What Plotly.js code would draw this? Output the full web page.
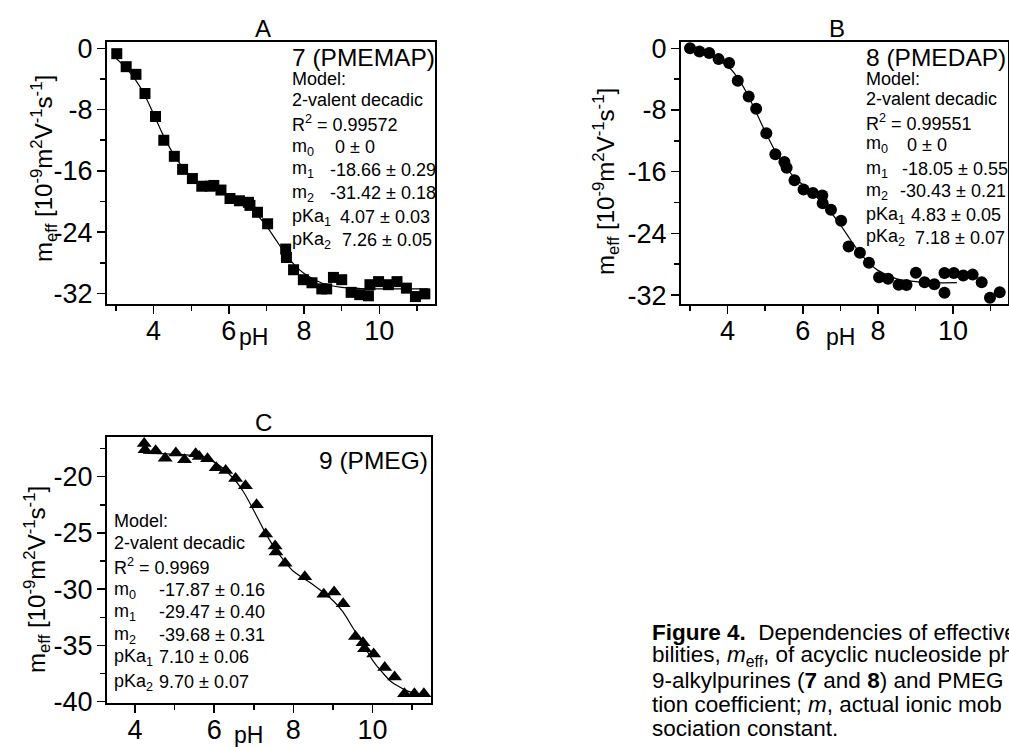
<!DOCTYPE html>
<html>
<head>
<meta charset="utf-8">
<script src="https://cdn.plot.ly/plotly-3.0.1.min.js"></script>
<style>
  html, body { margin: 0; padding: 0; background: #ffffff; }
  #chart { width: 1009px; height: 747px; }
</style>
</head>
<body>
<div id="chart"></div>
<script>
// ---- Panel A: 7 (PMEMAP), measured effective mobilities vs pH ----
const phA = [3.02, 3.27, 3.53, 3.77, 4.05, 4.27, 4.55, 4.77, 5.03, 5.28, 5.50, 5.60, 5.79, 6.03, 6.28,
             6.52, 6.56, 6.76, 7.03, 7.51, 7.53, 7.72, 7.98, 8.21, 8.47, 8.60, 8.78, 9.00, 9.25, 9.48,
             9.71, 9.75, 9.98, 10.24, 10.47, 10.72, 10.96, 11.21];
const meffA = [-0.7, -2.4, -3.4, -5.9, -8.9, -12.0, -14.1, -15.8, -17.0, -18.0, -18.0, -17.9, -18.5, -19.6, -19.9,
               -20.1, -20.5, -21.4, -22.9, -26.2, -27.3, -28.9, -30.2, -30.6, -31.4, -31.4, -29.9, -30.2, -31.85, -32.15,
               -32.3, -30.85, -30.45, -30.85, -30.45, -31.3, -32.4, -32.05];
// fitted curve of panel A
const fitPhA = [3.0, 3.25, 3.5, 3.75, 4.0, 4.25, 4.5, 4.75, 5.0, 5.5, 6.0, 6.5, 7.0, 7.25, 7.5, 7.75, 8.0, 8.5, 9.0, 9.5, 10.0, 10.5, 11.0, 11.3];
const fitA   = [-1.3, -2.5, -4.0, -6.0, -8.6, -11.3, -13.6, -15.4, -16.8, -18.2, -19.1, -20.5, -23.2, -25.0, -26.8, -28.3, -29.4, -30.7, -31.2, -31.35, -31.4, -31.4, -31.4, -31.4];

// ---- Panel B: 8 (PMEDAP) ----
const phB = [3.00, 3.25, 3.51, 3.76, 4.04, 4.27, 4.56, 4.76, 5.03, 5.27, 5.51, 5.57, 5.78, 6.02, 6.27,
             6.52, 6.53, 6.75, 7.02, 7.22, 7.52, 7.76, 8.03, 8.27, 8.55, 8.76, 9.01, 9.24, 9.50, 9.77,
             9.77, 10.02, 10.27, 10.52, 10.76, 10.98, 11.24];
const meffB = [0.0, -0.4, -0.6, -1.4, -1.9, -4.2, -6.25, -7.85, -11.0, -13.75, -14.75, -15.5, -17.1, -18.3, -18.75,
               -19.1, -20.1, -20.95, -22.35, -25.7, -26.5, -27.8, -29.7, -29.9, -30.65, -30.7, -29.1, -30.35, -30.6, -31.7,
               -29.15, -29.15, -29.45, -29.35, -30.35, -32.35, -31.65];
const fitPhB = [3.0, 3.5, 4.0, 4.25, 4.5, 4.75, 5.0, 5.25, 5.5, 5.75, 6.0, 6.5, 7.0, 7.25, 7.5, 7.75, 8.0, 8.5, 9.0, 9.5, 10.1];
const fitB   = [-0.3, -0.8, -2.3, -3.7, -5.7, -8.2, -10.8, -13.2, -15.1, -16.6, -17.7, -19.8, -22.9, -24.7, -26.4, -27.8, -28.8, -29.9, -30.25, -30.4, -30.4];

// ---- Panel C: 9 (PMEG) ----
const phC = [4.23, 4.25, 4.52, 4.76, 5.03, 5.25, 5.53, 5.62, 5.83, 6.05, 6.29, 6.54, 6.79, 7.07, 7.30,
             7.54, 7.56, 7.79, 8.29, 8.77, 9.03, 9.26, 9.57, 9.76, 9.80, 10.03, 10.31, 10.56, 10.81, 11.06, 11.30];
const meffC = [-17.05, -17.6, -17.7, -18.35, -17.9, -18.5, -17.95, -18.2, -18.4, -19.2, -19.45, -20.15, -20.8, -22.5, -25.1,
               -26.15, -26.7, -27.7, -28.9, -30.45, -30.25, -31.3, -34.2, -34.75, -35.3, -35.75, -36.95, -37.8, -39.3, -39.3, -39.3];
const fitPhC = [4.2, 5.0, 5.5, 6.0, 6.5, 6.75, 7.0, 7.25, 7.5, 7.75, 8.0, 8.5, 9.0, 9.25, 9.5, 9.75, 10.0, 10.25, 10.5, 11.0, 11.3];
const fitC   = [-17.9, -18.0, -18.15, -18.7, -20.2, -21.4, -23.0, -24.7, -26.2, -27.4, -28.4, -29.6, -31.0, -32.0, -33.4, -34.8, -36.3, -37.4, -38.3, -39.2, -39.4];

// ---- tick labels ----
const xTicks = [4, 6, 8, 10];
const yTicksAB = [0, -8, -16, -24, -32];
const yTicksC = [-20, -25, -30, -35, -40];

// ---- fit parameter tables ----
const paramsA = { name: '7 (PMEMAP)', r2: '0.99572',
  rows: [['m<sub>0</sub>', '0 ± 0'], ['m<sub>1</sub>', '-18.66 ± 0.29'], ['m<sub>2</sub>', '-31.42 ± 0.18'],
         ['pKa<sub>1</sub>', '4.07 ± 0.03'], ['pKa<sub>2</sub>', '7.26 ± 0.05']] };
const paramsB = { name: '8 (PMEDAP)', r2: '0.99551',
  rows: [['m<sub>0</sub>', '0 ± 0'], ['m<sub>1</sub>', '-18.05 ± 0.55'], ['m<sub>2</sub>', '-30.43 ± 0.21'],
         ['pKa<sub>1</sub>', '4.83 ± 0.05'], ['pKa<sub>2</sub>', '7.18 ± 0.07']] };
const paramsC = { name: '9 (PMEG)', r2: '0.9969',
  rows: [['m<sub>0</sub>', '-17.87 ± 0.16'], ['m<sub>1</sub>', '-29.47 ± 0.40'], ['m<sub>2</sub>', '-39.68 ± 0.31'],
         ['pKa<sub>1</sub>', '7.10 ± 0.06'], ['pKa<sub>2</sub>', '9.70 ± 0.07']] };

const captionLines = [
  '<b>Figure 4.</b>  Dependencies of effective',
  'bilities, <i>m</i><sub>eff</sub>, of acyclic nucleoside ph',
  '9-alkylpurines (<b>7</b> and <b>8</b>) and PMEG',
  'tion coefficient; <i>m</i>, actual ionic mob',
  'sociation constant.'
];

// ---- helpers ----
const W = 1009, H = 747;
const FONT = 'Liberation Sans, Arial, Helvetica, sans-serif';
const TICK_SIZE = 27;
const px = x => x / W;
const py = y => 1 - y / H;
const fmt = v => String(v); // plain hyphen for negatives

function xAxis(domain, range, yAnchor) {
  return {
    domain: domain.map(px), range: range, anchor: yAnchor,
    tickmode: 'array', tickvals: xTicks, ticktext: xTicks.map(fmt),
    ticks: 'outside', ticklen: 8, tickwidth: 1.5, tickcolor: '#000',
    ticklabelstandoff: -6,
    minor: { tickmode: 'linear', tick0: 3, dtick: 2, ticks: 'outside', ticklen: 5, tickwidth: 1.5, tickcolor: '#000' },
    showline: true, mirror: true, linewidth: 2, linecolor: '#000',
    showgrid: false, zeroline: false,
    tickfont: { family: FONT, size: TICK_SIZE, color: '#000' }
  };
}
function yAxis(domain, range, xAnchor, ticks, minorTick0, minorDtick) {
  return {
    domain: [py(domain[1]), py(domain[0])], range: range, anchor: xAnchor,
    tickmode: 'array', tickvals: ticks, ticktext: ticks.map(fmt),
    ticks: 'outside', ticklen: 8, tickwidth: 1.5, tickcolor: '#000',
    ticklabelstandoff: -1,
    minor: { tickmode: 'linear', tick0: minorTick0, dtick: minorDtick, ticks: 'outside', ticklen: 5, tickwidth: 1.5, tickcolor: '#000' },
    showline: true, mirror: true, linewidth: 2, linecolor: '#000',
    showgrid: false, zeroline: false,
    tickfont: { family: FONT, size: TICK_SIZE, color: '#000' }
  };
}

function pointTrace(x, y, xa, ya, symbol, size) {
  return { x: x, y: y, xaxis: xa, yaxis: ya, type: 'scatter', mode: 'markers',
           marker: { symbol: symbol, size: size, color: '#000' }, cliponaxis: false, hoverinfo: 'skip' };
}
function fitTrace(x, y, xa, ya) {
  return { x: x, y: y, xaxis: xa, yaxis: ya, type: 'scatter', mode: 'lines',
           line: { color: '#000', width: 1.2, shape: 'spline', smoothing: 0.8 }, hoverinfo: 'skip' };
}

const annotations = [];
function txt(x, y, text, size, opts) {
  annotations.push(Object.assign({
    xref: 'paper', yref: 'paper', x: px(x), y: py(y), text: text, showarrow: false,
    xanchor: 'left', yanchor: 'middle', font: { family: FONT, size: size, color: '#000' }
  }, opts || {}));
}

// parameter block: name line, model lines, then label/value rows
function paramBlock(p, x0, yName, nameOpts, lineYs, valueXs) {
  txt(nameOpts.x, yName, p.name, 24.5, nameOpts.opts);
  txt(x0, lineYs[0], 'Model:', 18);
  txt(x0, lineYs[1], '2-valent decadic', 18);
  txt(x0, lineYs[2], 'R<sup>2</sup> = ' + p.r2, 18);
  p.rows.forEach((r, i) => {
    txt(x0, lineYs[3 + i], r[0], 18);
    txt(valueXs[i], lineYs[3 + i], r[1], 18);
  });
}

paramBlock(paramsA, 290, 57, { x: 290 }, [79, 100, 123, 147, 170, 193, 217, 240], [333, 328, 328, 338, 340]);
paramBlock(paramsB, 864, 57, { x: 864 }, [79, 99, 122, 145, 169, 191, 215, 238], [905, 900, 898, 909, 913]);
paramBlock(paramsC, 112, 460, { x: 430, opts: { xanchor: 'right' } }, [521, 543, 566, 590, 612, 635, 657, 682], [157, 157, 157, 157, 157]);

// panel letters
txt(263, 28, 'A', 24, { xanchor: 'center' });
txt(837, 28, 'B', 24, { xanchor: 'center' });
txt(263, 422, 'C', 24, { xanchor: 'center' });

// x-axis titles
txt(253, 337, 'pH', 23, { xanchor: 'center' });
txt(840, 337, 'pH', 23, { xanchor: 'center' });
txt(248, 735, 'pH', 23, { xanchor: 'center' });

// y-axis titles
const yTitle = 'm<sub>eff</sub> [10<sup>-9</sup>m<sup>2</sup>V<sup>-1</sup>s<sup>-1</sup>]';
txt(44, 169, yTitle, 24, { xanchor: 'center', textangle: -90 });
txt(606, 182, yTitle, 24, { xanchor: 'center', textangle: -90 });
txt(37, 580, yTitle, 24, { xanchor: 'center', textangle: -90 });

// caption
captionLines.forEach((line, i) => txt(650, 632 + i * 24, line, 22.5));

const data = [
  fitTrace(fitPhA, fitA, 'x', 'y'),
  pointTrace(phA, meffA, 'x', 'y', 'square', 11),
  fitTrace(fitPhB, fitB, 'x2', 'y2'),
  pointTrace(phB, meffB, 'x2', 'y2', 'circle', 12),
  fitTrace(fitPhC, fitC, 'x3', 'y3'),
  pointTrace(phC, meffC, 'x3', 'y3', 'triangle-up', 13)
];

const layout = {
  width: W, height: H,
  margin: { l: 0, r: 0, t: 0, b: 0 },
  paper_bgcolor: '#fff', plot_bgcolor: '#fff',
  showlegend: false,
  font: { family: FONT, color: '#000' },
  xaxis:  xAxis([107, 435], [2.76, 11.48], 'y'),
  yaxis:  yAxis([42, 304], [-33.37, 0.82], 'x', yTicksAB, 0, 4),
  xaxis2: xAxis([681, 1008], [2.76, 11.46], 'y2'),
  yaxis2: yAxis([42, 304], [-33.16, 0.82], 'x2', yTicksAB, 0, 4),
  xaxis3: xAxis([107, 431], [3.29, 11.48], 'y3'),
  yaxis3: yAxis([436.7, 702.7], [-40.09, -16.44], 'x3', yTicksC, -17.5, 5),
  annotations: annotations
};

Plotly.newPlot('chart', data, layout, { displayModeBar: false, staticPlot: true });
</script>
</body>
</html>
